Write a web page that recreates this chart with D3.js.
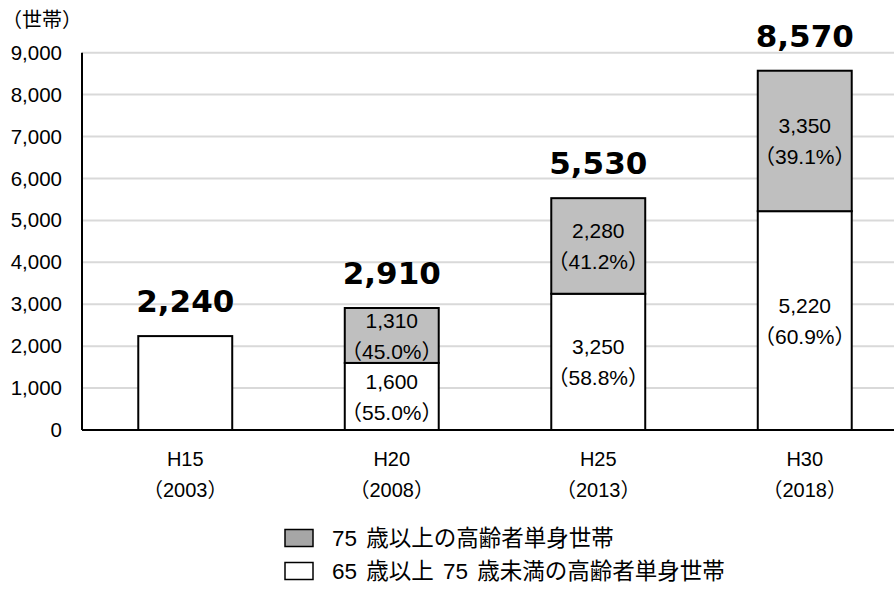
<!DOCTYPE html>
<html>
<head>
<meta charset="utf-8">
<script src="https://cdn.jsdelivr.net/npm/d3@7"></script>
<style>
  body { margin: 0; background: #fff; }
  text { font-family: "Liberation Sans", "Noto Sans CJK JP", sans-serif; fill: #000; }
</style>
</head>
<body>
<div id="chart"></div>
<script>
// Data
const categories = ["H15", "H20", "H25", "H30"];
const years = ["（2003）", "（2008）", "（2013）", "（2018）"];
const under75 = [2240, 1600, 3250, 5220];   // 65歳以上75歳未満
const over75 = [0, 1310, 2280, 3350];       // 75歳以上
const totals = [2240, 2910, 5530, 8570];
const under75Pct = [null, 55.0, 58.8, 60.9];
const over75Pct = [null, 45.0, 41.2, 39.1];
const yTicks = [0, 1000, 2000, 3000, 4000, 5000, 6000, 7000, 8000, 9000];
const legendLabels = ["75 歳以上の高齢者単身世帯", "65 歳以上 75 歳未満の高齢者単身世帯"];

const W = 894, H = 590;
const plot = { left: 82, right: 908, top: 52.7, bottom: 430 };

const svg = d3.select("#chart").append("svg")
  .attr("width", W)
  .attr("height", H);

const x = d3.scaleBand()
  .domain(categories)
  .range([plot.left, plot.right])
  .paddingInner(0.545)
  .paddingOuter(0.2725);

const y = d3.scaleLinear()
  .domain([0, 9000])
  .range([plot.bottom, plot.top]);

// gridlines
svg.append("g")
  .selectAll("line")
  .data(yTicks.filter(d => d > 0))
  .enter().append("line")
  .attr("x1", plot.left).attr("x2", W)
  .attr("y1", d => y(d)).attr("y2", d => y(d))
  .attr("stroke", "#d9d9d9")
  .attr("stroke-width", 2);

// y axis labels
const yAxis = svg.append("g")
  .attr("transform", `translate(${plot.left},0)`)
  .call(d3.axisLeft(y).tickValues(yTicks).tickFormat(d3.format(",")).tickSize(0).tickPadding(20));
yAxis.select(".domain").remove();
yAxis.selectAll("text")
  .style("font-family", "Liberation Sans, sans-serif")
  .style("font-size", "20.5px")
  .attr("fill", "#000");

const rows = categories.map((c, i) => ({
  cat: c, year: years[i], under: under75[i], over: over75[i],
  total: totals[i], underPct: under75Pct[i], overPct: over75Pct[i]
}));

// bars: lower segment (white)
svg.selectAll(".under")
  .data(rows)
  .enter().append("rect")
  .attr("class", "under")
  .attr("x", d => x(d.cat))
  .attr("width", x.bandwidth())
  .attr("y", d => y(d.under))
  .attr("height", d => y(0) - y(d.under))
  .attr("fill", "#fff")
  .attr("stroke", "#000")
  .attr("stroke-width", 2);

// upper segment (grey)
svg.selectAll(".over")
  .data(rows.filter(d => d.over > 0))
  .enter().append("rect")
  .attr("class", "over")
  .attr("x", d => x(d.cat))
  .attr("width", x.bandwidth())
  .attr("y", d => y(d.under + d.over))
  .attr("height", d => y(d.under) - y(d.under + d.over))
  .attr("fill", "#bfbfbf")
  .attr("stroke", "#000")
  .attr("stroke-width", 2);

// segment labels
function segLabel(sel, val, pct, base) {
  const g = svg.selectAll(sel)
    .data(rows.filter(d => d[pct] != null))
    .enter().append("g")
    .attr("transform", d => `translate(${x(d.cat) + x.bandwidth() / 2},${y(base(d) + d[val] / 2)})`);
  g.append("text")
    .attr("text-anchor", "middle")
    .attr("y", -15)
    .attr("dy", "0.35em")
    .style("font-size", "21px")
    .text(d => d3.format(",")(d[val]));
  g.append("text")
    .attr("text-anchor", "middle")
    .attr("y", 16)
    .attr("dy", "0.35em")
    .style("font-size", "21px")
    .text(d => "（" + d[pct].toFixed(1) + "%）");
}
segLabel(".ulab", "under", "underPct", d => 0);
segLabel(".olab", "over", "overPct", d => d.under);

// totals above bars
svg.selectAll(".total")
  .data(rows)
  .enter().append("text")
  .attr("class", "total")
  .attr("x", d => x(d.cat) + x.bandwidth() / 2)
  .attr("y", d => y(d.total) - 24)
  .attr("text-anchor", "middle")
  .style("font-family", "DejaVu Sans, sans-serif")
  .style("font-weight", "bold")
  .style("font-size", "31px")
  .text(d => d3.format(",")(d.total));

// axis lines
svg.append("line")
  .attr("x1", plot.left).attr("x2", plot.left)
  .attr("y1", plot.top).attr("y2", plot.bottom)
  .attr("stroke", "#000").attr("stroke-width", 2);
svg.append("line")
  .attr("x1", plot.left).attr("x2", W)
  .attr("y1", plot.bottom).attr("y2", plot.bottom)
  .attr("stroke", "#000").attr("stroke-width", 2);

// category labels
const cat = svg.selectAll(".cat")
  .data(rows)
  .enter().append("g")
  .attr("transform", d => `translate(${x(d.cat) + x.bandwidth() / 2},0)`);
cat.append("text")
  .attr("y", 459).attr("dy", "0.35em")
  .attr("text-anchor", "middle")
  .style("font-size", "20px")
  .text(d => d.cat);
cat.append("text")
  .attr("y", 490).attr("dy", "0.35em")
  .attr("text-anchor", "middle")
  .style("font-size", "20px")
  .text(d => d.year);

// unit label
svg.append("text")
  .attr("x", 2).attr("y", 20).attr("dy", "0.35em")
  .style("font-size", "20px")
  .text("（世帯）");

// legend
const legend = svg.selectAll(".legend")
  .data(legendLabels)
  .enter().append("g")
  .attr("transform", (d, i) => `translate(285,${538 + i * 33})`);
legend.append("rect")
  .attr("x", 0).attr("y", -8.5)
  .attr("width", 28).attr("height", 17)
  .attr("fill", (d, i) => i === 0 ? "#a6a6a6" : "#fff")
  .attr("stroke", "#000").attr("stroke-width", 1.5);
legend.append("text")
  .attr("x", 47).attr("dy", "0.35em")
  .style("font-size", "22.5px")
  .style("word-spacing", "3px")
  .text(d => d);
</script>
</body>
</html>
